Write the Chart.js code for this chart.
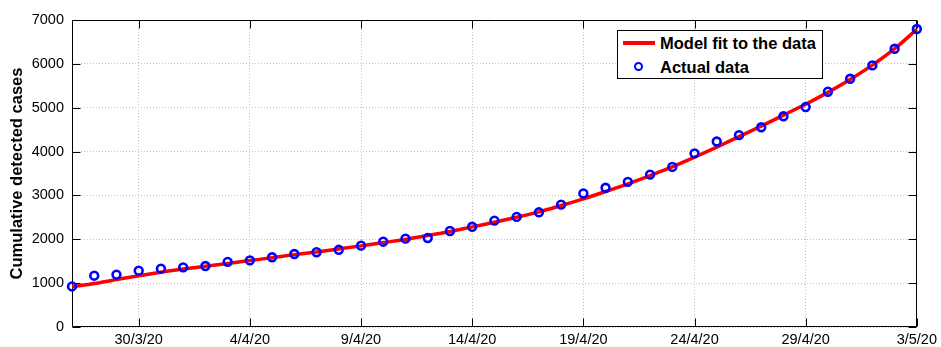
<!DOCTYPE html>
<html>
<head>
<meta charset="utf-8">
<script src="https://cdn.jsdelivr.net/npm/chart.js@4"></script>
<style>
html,body{margin:0;padding:0;background:#fff;}
#wrap{position:relative;width:941px;height:347px;}
canvas{display:block;}
#legend{position:absolute;left:617px;top:30px;width:204px;height:47px;border:1px solid #000;background:#fff;
  font-family:"Liberation Sans",Arial,sans-serif;font-weight:bold;font-size:16.5px;color:#000;}
#legend .txt{position:absolute;left:42px;height:20px;line-height:20px;white-space:nowrap;}
#legend .ln{position:absolute;left:5px;top:10px;width:32px;height:3.5px;background:#ff0000;}
#legend .mk{position:absolute;left:16px;top:31.4px;width:5px;height:5px;border:2.5px solid #0000ff;border-radius:50%;}
</style>
</head>
<body>
<div id="wrap">
  <canvas id="c" width="941" height="347"></canvas>
  <div id="legend">
    <div class="ln"></div><div class="txt" style="top:1.7px">Model fit to the data</div>
    <div class="mk"></div><div class="txt" style="top:26.3px">Actual data</div>
  </div>
</div>
<script>
// Day index since 27/3/20
const days = [0,1,2,3,4,5,6,7,8,9,10,11,12,13,14,15,16,17,18,19,20,21,22,23,24,25,26,27,28,29,30,31,32,33,34,35,36,37,38];
const actualData = [925,1170,1195,1285,1330,1360,1390,1485,1520,1590,1665,1705,1760,1855,1945,2015,2030,2190,2285,2425,2510,2615,2790,3045,3175,3310,3475,3650,3960,4230,4375,4555,4805,5015,5365,5660,5965,6345,6795];
const modelFit = [920,990,1080,1170,1250,1320,1385,1450,1515,1580,1650,1712,1780,1850,1925,1995,2085,2176,2283,2389,2503,2625,2770,2922,3089,3265,3454,3650,3870,4100,4340,4580,4830,5080,5350,5645,5970,6345,6790];
const tickPositions = [3,8,13,18,23,28,33,38];
const tickLabels = ["30/3/20","4/4/20","9/4/20","14/4/20","19/4/20","24/4/20","29/4/20","3/5/20"];
const yTicks = [0,1000,2000,3000,4000,5000,6000,7000];

const FONT = '"Liberation Sans", Arial, sans-serif';

const frame = {
  id: 'frame',
  beforeDatasetsDraw(chart) {
    const {ctx, chartArea, scales} = chart;
    const L = Math.round(chartArea.left) + 0.5, R = Math.round(chartArea.right) - 0.5;
    const T = Math.round(chartArea.top) + 0.5, B = Math.round(chartArea.bottom) - 0.5;
    const TL = 8;
    ctx.save();
    ctx.strokeStyle = '#000';
    ctx.lineWidth = 1;
    ctx.setLineDash([]);
    ctx.beginPath();
    ctx.rect(L, T, R - L, B - T);
    tickPositions.forEach(v => {
      const px = Math.round(scales.x.getPixelForValue(v)) + 0.5;
      ctx.moveTo(px, B); ctx.lineTo(px, B - TL);
      ctx.moveTo(px, T); ctx.lineTo(px, T + TL);
    });
    yTicks.forEach(v => {
      const py = Math.round(scales.y.getPixelForValue(v)) + 0.5;
      ctx.moveTo(L, py); ctx.lineTo(L + TL, py);
      ctx.moveTo(R, py); ctx.lineTo(R - TL, py);
    });
    ctx.stroke();
    ctx.restore();
  }
};

new Chart(document.getElementById('c'), {
  type: 'line',
  data: {
    datasets: [
      {
        label: 'Actual data',
        data: days.map((d, i) => ({x: d, y: actualData[i]})),
        showLine: false,
        pointRadius: 3.9,
        pointBorderWidth: 2.6,
        pointBorderColor: '#0000ff',
        pointBackgroundColor: 'rgba(0,0,0,0)',
        order: 0,
        clip: false
      },
      {
        label: 'Model fit to the data',
        data: days.map((d, i) => ({x: d, y: modelFit[i]})),
        borderColor: '#ff0000',
        borderWidth: 3.5,
        pointRadius: 0,
        cubicInterpolationMode: 'monotone',
        fill: false,
        order: 1,
        clip: false
      }
    ]
  },
  options: {
    responsive: false,
    animation: false,
    devicePixelRatio: 1,
    layout: {padding: {top: 20, right: 23, bottom: 0, left: 0}},
    plugins: {legend: {display: false}, tooltip: {enabled: false}},
    scales: {
      x: {
        type: 'linear',
        min: 0, max: 38,
        afterBuildTicks: s => { s.ticks = tickPositions.map(v => ({value: v})); },
        afterFit: s => { s.height = 20; },
        ticks: {
          autoSkip: false, maxRotation: 0, minRotation: 0, padding: 4,
          color: '#000', font: {family: FONT, size: 14.5},
          callback: v => tickLabels[tickPositions.indexOf(v)]
        },
        grid: {drawTicks: false, color: '#c4c4c4', lineWidth: 1},
        border: {display: false, dash: [1, 2]}
      },
      y: {
        min: 0, max: 7000,
        afterBuildTicks: s => { s.ticks = yTicks.map(v => ({value: v})); },
        afterFit: s => { s.width = 72; },
        ticks: {
          padding: 8, color: '#000', font: {family: FONT, size: 14.5},
          callback: v => String(v)
        },
        grid: {drawTicks: false, color: '#c4c4c4', lineWidth: 1},
        border: {display: false, dash: [1, 2]},
        title: {
          display: true, text: 'Cumulative detected cases', color: '#000',
          font: {family: FONT, size: 16.5, weight: 'bold'},
          padding: {top: 7.6, bottom: 0}
        }
      }
    }
  },
  plugins: [frame]
});
</script>
</body>
</html>
